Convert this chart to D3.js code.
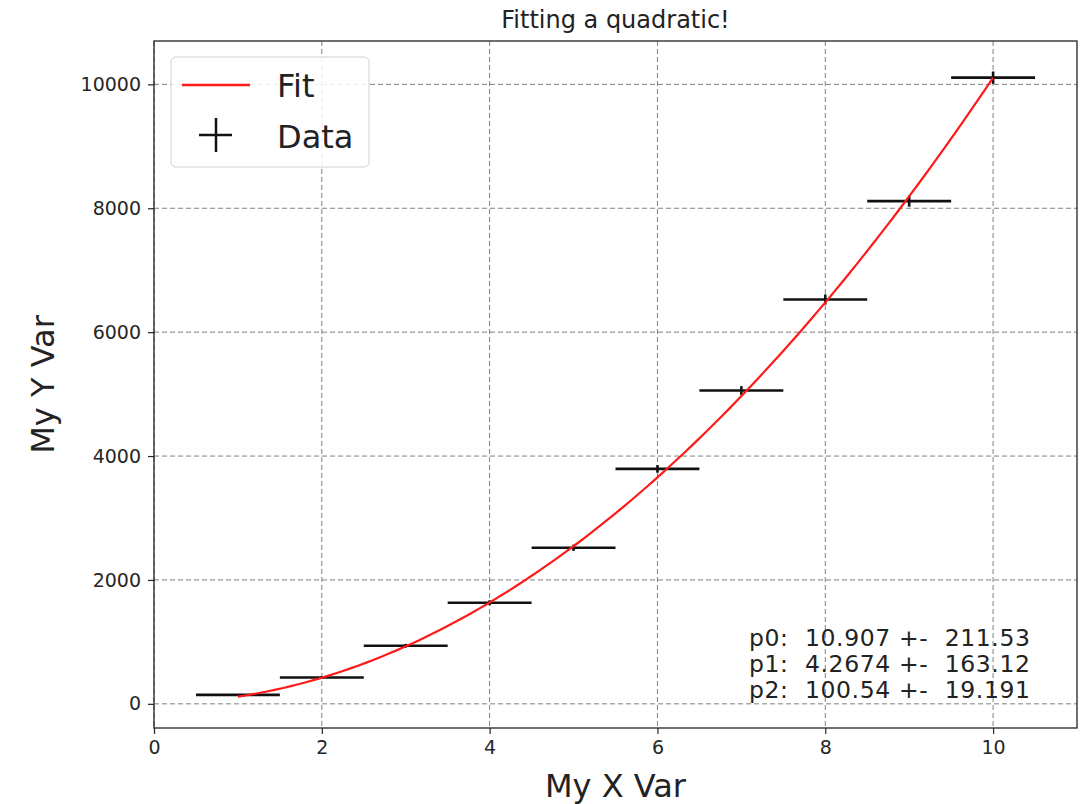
<!DOCTYPE html>
<html><head><meta charset="utf-8">
<script src="https://cdn.jsdelivr.net/npm/d3@7"></script>
<style>
body{margin:0;background:#fff;}
svg{font-family:"DejaVu Sans",sans-serif;}
</style></head>
<body><svg id="c" width="1081" height="804"></svg>
<script>
const xData = [1,2,3,4,5,6,7,8,9,10];
const yData = [145,425,937,1632,2520,3793,5058,6527,8115,10108];
const xErr = [0.5,0.5,0.5,0.5,0.5,0.5,0.5,0.5,0.5,0.5];
const yErr = [12,21,31,40,50,62,71,81,90,100];
const paramNames = ["p0","p1","p2"];
const paramValues = [10.907, 4.2674, 100.54];
const paramErrors = ["211.53","163.12","19.191"];
const paramValueLabels = ["10.907","4.2674","100.54"];
const xTicks = [0,2,4,6,8,10];
const yTicks = [0,2000,4000,6000,8000,10000];

const svg = d3.select("#c");
const L=154, R=1077, T=41, B=728;
const x = d3.scaleLinear().domain([0,11]).range([L,R]);
const y = d3.scaleLinear().domain([-390,10700]).range([B,T]);

// grid
const g = svg.append("g");
g.selectAll(".vg").data(xTicks).join("line")
  .attr("x1",d=>x(d)).attr("x2",d=>x(d)).attr("y1",T).attr("y2",B)
  .attr("stroke","#808080").attr("stroke-width",1).attr("stroke-dasharray","5,3");
g.selectAll(".hg").data(yTicks).join("line")
  .attr("x1",L).attr("x2",R).attr("y1",d=>y(d)).attr("y2",d=>y(d))
  .attr("stroke","#808080").attr("stroke-width",1).attr("stroke-dasharray","5,3");

// axes
const xa = svg.append("g").attr("transform",`translate(0,${B})`)
  .call(d3.axisBottom(x).tickValues(xTicks).tickSize(6).tickPadding(7).tickFormat(d3.format("d")));
const ya = svg.append("g").attr("transform",`translate(${L},0)`)
  .call(d3.axisLeft(y).tickValues(yTicks).tickSize(6).tickPadding(7).tickFormat(d3.format("d")));
[xa,ya].forEach(a=>{
  a.select(".domain").remove();
  a.selectAll("text").attr("font-size",19).attr("fill","#262626").attr("font-family","DejaVu Sans");
  a.selectAll("line").attr("stroke","#262626").attr("stroke-width",1.2);
});
// frame
svg.append("rect").attr("x",L).attr("y",T).attr("width",R-L).attr("height",B-T)
  .attr("fill","none").attr("stroke","#222").attr("stroke-width",1.3);

// error bars
const pts = xData.map((d,i)=>({x:d,y:yData[i],xe:xErr[i],ye:yErr[i]}));
const eb = svg.append("g").attr("stroke","#111").attr("stroke-width",2.6);
eb.selectAll(".xe").data(pts).join("line")
  .attr("x1",d=>x(d.x-d.xe)).attr("x2",d=>x(d.x+d.xe))
  .attr("y1",d=>y(d.y)).attr("y2",d=>y(d.y));
eb.selectAll(".ye").data(pts).join("line")
  .attr("x1",d=>x(d.x)).attr("x2",d=>x(d.x))
  .attr("y1",d=>y(d.y-d.ye)).attr("y2",d=>y(d.y+d.ye));

// fit
const fitX = d3.range(0,101).map(i=>1+9*i/100);
const fitPts = fitX.map(v=>[v, paramValues[0]+paramValues[1]*v+paramValues[2]*v*v]);
svg.append("path").datum(fitPts)
  .attr("d",d3.line().x(d=>x(d[0])).y(d=>y(d[1])))
  .attr("fill","none").attr("stroke","#ff1a1a").attr("stroke-width",2.2);

// title & labels
svg.append("text").attr("x",(L+R)/2).attr("y",28).attr("text-anchor","middle")
  .attr("font-size",24).attr("fill","#222").text("Fitting a quadratic!");
svg.append("text").attr("x",(L+R)/2).attr("y",797).attr("text-anchor","middle")
  .attr("font-size",32).attr("fill","#222").text("My X Var");
svg.append("text").attr("transform",`translate(54,${(T+B)/2}) rotate(-90)`).attr("text-anchor","middle")
  .attr("font-size",32).attr("fill","#222").text("My Y Var");

// legend
const lg = svg.append("g");
lg.append("rect").attr("x",171).attr("y",57).attr("width",198).attr("height",110).attr("rx",5)
  .attr("fill","#fff").attr("fill-opacity",0.85).attr("stroke","#d0d0d0").attr("stroke-width",1);
lg.append("line").attr("x1",182).attr("x2",250).attr("y1",85).attr("y2",85)
  .attr("stroke","#ff1a1a").attr("stroke-width",2.5);
lg.append("line").attr("x1",199).attr("x2",232).attr("y1",135).attr("y2",135).attr("stroke","#111").attr("stroke-width",2.5);
lg.append("line").attr("x1",216).attr("x2",216).attr("y1",118).attr("y2",152).attr("stroke","#111").attr("stroke-width",2.5);
lg.append("text").attr("x",277).attr("y",97).attr("font-size",32).attr("fill","#222").text("Fit");
lg.append("text").attr("x",277).attr("y",148).attr("font-size",32).attr("fill","#222").text("Data");

// params text
const pt = svg.append("g");
paramNames.forEach((n,i)=>{
  pt.append("text").attr("x",749).attr("y",646+i*26).attr("font-size",23.5).attr("fill","#222")
    .attr("xml:space","preserve").style("white-space","pre")
    .attr("textLength",281).attr("lengthAdjust","spacing")
    .text(`${n}:  ${paramValueLabels[i]} +-  ${paramErrors[i]}`);
});
</script></body></html>
